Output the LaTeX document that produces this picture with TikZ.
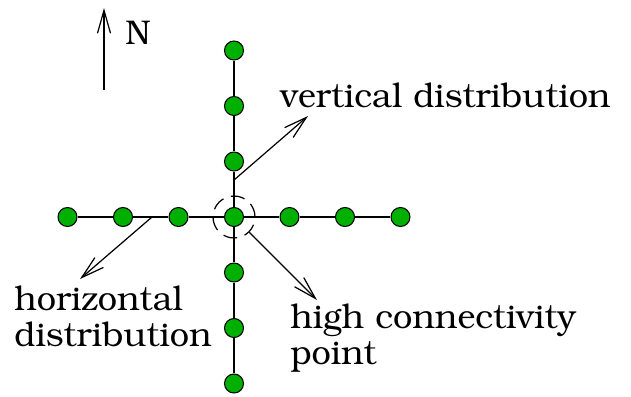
\documentclass[tikz,border=0pt]{standalone}
\usepackage[T1]{fontenc}
\usepackage{bookman}
\usepackage{tikz}
\usetikzlibrary{arrows.meta}
\definecolor{sitegreen}{RGB}{0,176,0}

\begin{document}
\begin{tikzpicture}[x=0.02cm, y=-0.02cm,
  site/.style={circle,draw,fill=sitegreen,minimum size=0.38cm,inner sep=0pt,line width=0.6pt},
  wire/.style={draw,line width=1pt},
  pointer/.style={draw,line width=0.7pt,-{Straight Barb[length=4.6mm,width=2.6mm]}},
  callout/.style={inner sep=0pt,font=\fontsize{19.5}{20.4}\selectfont,align=left}]
\useasboundingbox (0,0) rectangle (631,396);
% the crossing point and its four arms
\node[site] (c) at (234,217) {};
\foreach \i in {1,2,3} {
  \node[site] (n\i) at (234,217-55.5*\i) {};
  \node[site] (s\i) at (234,217+55.5*\i) {};
  \node[site] (w\i) at (234-55.5*\i,217) {};
  \node[site] (e\i) at (234+55.5*\i,217) {};
}
\draw[wire] (n3) -- (n2) -- (n1) -- (c) -- (s1) -- (s2) -- (s3);
\draw[wire] (w3) -- (w2) -- (w1) -- (c) -- (e1) -- (e2) -- (e3);
\node[circle,draw,line width=0.7pt,dash pattern=on 8pt off 4.5pt,minimum size=0.84cm,inner sep=0pt] (hub) at (c) {};
% labels
\node[callout, anchor=base west] (nlab) at (125,44) {N};
\node[callout, anchor=base west] (vlab) at (280,107) {vertical distribution};
\node[callout, anchor=north west] (hlab) at (14,286) {horizontal\\distribution};
\node[callout, anchor=north west] (clab) at (290,304) {high connectivity\\point};
% pointers
\coordinate (ntail) at (104,90);
\coordinate (nhead) at (104,8);
\coordinate (vfoot) at (234,180);
\coordinate (vtip) at (308,116);
\coordinate (hfoot) at (152,217);
\coordinate (htip) at (80,279);
\coordinate (ctip) at (317,300);
\draw[pointer] (ntail) -- (nhead);
\draw[pointer] (vfoot) -- (vtip);
\draw[pointer] (hfoot) -- (htip);
\draw[pointer] (hub) -- (ctip);
\end{tikzpicture}
\end{document}
